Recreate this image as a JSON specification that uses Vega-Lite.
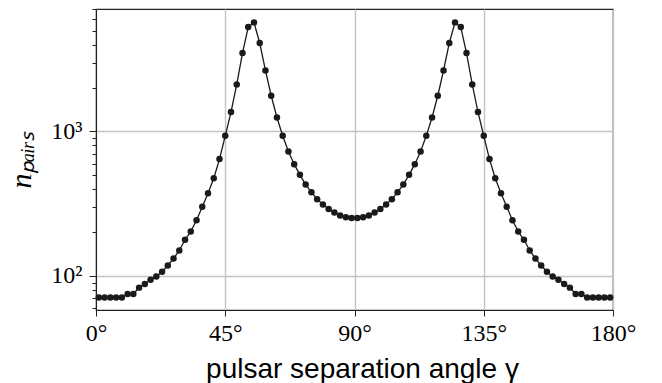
{
  "$schema": "https://vega.github.io/schema/vega-lite/v6.json",
  "width": 517,
  "height": 301,
  "autosize": {"type": "none"},
  "padding": {"left": 96, "top": 9, "right": 49, "bottom": 73},
  "background": "white",
  "config": {
    "view": {"stroke": "#222222", "strokeWidth": 1.2},
    "axis": {
      "labelFont": "Liberation Serif",
      "labelFontSize": 24,
      "labelColor": "black",
      "labelFlush": false,
      "labelOverlap": false,
      "domainColor": "#222222",
      "tickColor": "#222222",
      "gridColor": "#c4c4c4",
      "gridWidth": 1.4
    }
  },
  "data": {
    "values": [
      {"gamma": 1, "n": 71}, {"gamma": 3, "n": 71}, {"gamma": 5, "n": 71}, {"gamma": 7, "n": 71}, {"gamma": 9, "n": 71},
      {"gamma": 11, "n": 75}, {"gamma": 13, "n": 75}, {"gamma": 15, "n": 83}, {"gamma": 17, "n": 88}, {"gamma": 19, "n": 94},
      {"gamma": 21, "n": 99}, {"gamma": 23, "n": 107}, {"gamma": 25, "n": 118}, {"gamma": 27, "n": 132}, {"gamma": 29, "n": 150},
      {"gamma": 31, "n": 178}, {"gamma": 33, "n": 203}, {"gamma": 35, "n": 243}, {"gamma": 37, "n": 301}, {"gamma": 39, "n": 374},
      {"gamma": 41, "n": 475}, {"gamma": 43, "n": 644}, {"gamma": 45, "n": 933}, {"gamma": 47, "n": 1363}, {"gamma": 49, "n": 2117},
      {"gamma": 51, "n": 3494}, {"gamma": 53, "n": 5290}, {"gamma": 55, "n": 5693}, {"gamma": 57, "n": 4098}, {"gamma": 59, "n": 2647},
      {"gamma": 61, "n": 1768}, {"gamma": 63, "n": 1250}, {"gamma": 65, "n": 933}, {"gamma": 67, "n": 727}, {"gamma": 69, "n": 594},
      {"gamma": 71, "n": 501}, {"gamma": 73, "n": 429}, {"gamma": 75, "n": 380}, {"gamma": 77, "n": 340}, {"gamma": 79, "n": 312},
      {"gamma": 81, "n": 291}, {"gamma": 83, "n": 275}, {"gamma": 85, "n": 262}, {"gamma": 87, "n": 255}, {"gamma": 89, "n": 252},
      {"gamma": 91, "n": 252}, {"gamma": 93, "n": 255}, {"gamma": 95, "n": 262}, {"gamma": 97, "n": 275}, {"gamma": 99, "n": 291},
      {"gamma": 101, "n": 312}, {"gamma": 103, "n": 340}, {"gamma": 105, "n": 380}, {"gamma": 107, "n": 429}, {"gamma": 109, "n": 501},
      {"gamma": 111, "n": 594}, {"gamma": 113, "n": 727}, {"gamma": 115, "n": 933}, {"gamma": 117, "n": 1250}, {"gamma": 119, "n": 1768},
      {"gamma": 121, "n": 2647}, {"gamma": 123, "n": 4098}, {"gamma": 125, "n": 5693}, {"gamma": 127, "n": 5290}, {"gamma": 129, "n": 3494},
      {"gamma": 131, "n": 2117}, {"gamma": 133, "n": 1363}, {"gamma": 135, "n": 933}, {"gamma": 137, "n": 644}, {"gamma": 139, "n": 475},
      {"gamma": 141, "n": 374}, {"gamma": 143, "n": 301}, {"gamma": 145, "n": 243}, {"gamma": 147, "n": 203}, {"gamma": 149, "n": 178},
      {"gamma": 151, "n": 150}, {"gamma": 153, "n": 132}, {"gamma": 155, "n": 118}, {"gamma": 157, "n": 107}, {"gamma": 159, "n": 99},
      {"gamma": 161, "n": 94}, {"gamma": 163, "n": 88}, {"gamma": 165, "n": 83}, {"gamma": 167, "n": 75}, {"gamma": 169, "n": 75},
      {"gamma": 171, "n": 71}, {"gamma": 173, "n": 71}, {"gamma": 175, "n": 71}, {"gamma": 177, "n": 71}, {"gamma": 179, "n": 71}
    ]
  },
  "resolve": {"axis": {"y": "independent"}},
  "layer": [
    {
      "mark": {"type": "line", "color": "#1a1a1a", "strokeWidth": 1.3},
      "encoding": {
        "x": {
          "field": "gamma", "type": "quantitative",
          "scale": {"domain": [0, 180], "nice": false, "zero": false},
          "axis": {
            "values": [0, 45, 90, 135, 180],
            "labelExpr": "datum.value + '°'",
            "title": "pulsar separation angle γ",
            "titleFont": "Liberation Sans",
            "titleFontSize": 28,
            "titleFontWeight": "normal",
            "titleColor": "black",
            "titlePadding": 10,
            "titleX": 266,
            "titleAlign": "center",
            "tickSize": 6,
            "labelPadding": 5,
            "grid": true
          }
        },
        "y": {
          "field": "n", "type": "quantitative",
          "scale": {"type": "log", "domain": [58.1, 7047], "nice": false},
          "axis": {
            "orient": "left",
            "values": [100, 1000],
            "labelExpr": "datum.value == 100 ? '10²' : '10³'",
            "title": "nₚₐᵢᵣₛ",
            "titleFont": "Liberation Serif",
            "titleFontStyle": "italic",
            "titleFontSize": 30,
            "titleFontWeight": "normal",
            "titleColor": "black",
            "titlePadding": 14,
            "tickSize": 7,
            "labelPadding": 7,
            "grid": true
          }
        }
      }
    },
    {
      "mark": {"type": "point", "filled": true, "color": "#1a1a1a", "size": 42, "opacity": 1},
      "encoding": {
        "x": {"field": "gamma", "type": "quantitative"},
        "y": {
          "field": "n", "type": "quantitative",
          "axis": {
            "orient": "left",
            "values": [60, 70, 80, 90, 200, 300, 400, 500, 600, 700, 800, 900, 2000, 3000, 4000, 5000, 6000, 7000],
            "labels": false,
            "title": null,
            "tickSize": 4,
            "grid": false,
            "domain": false
          }
        }
      }
    }
  ]
}
